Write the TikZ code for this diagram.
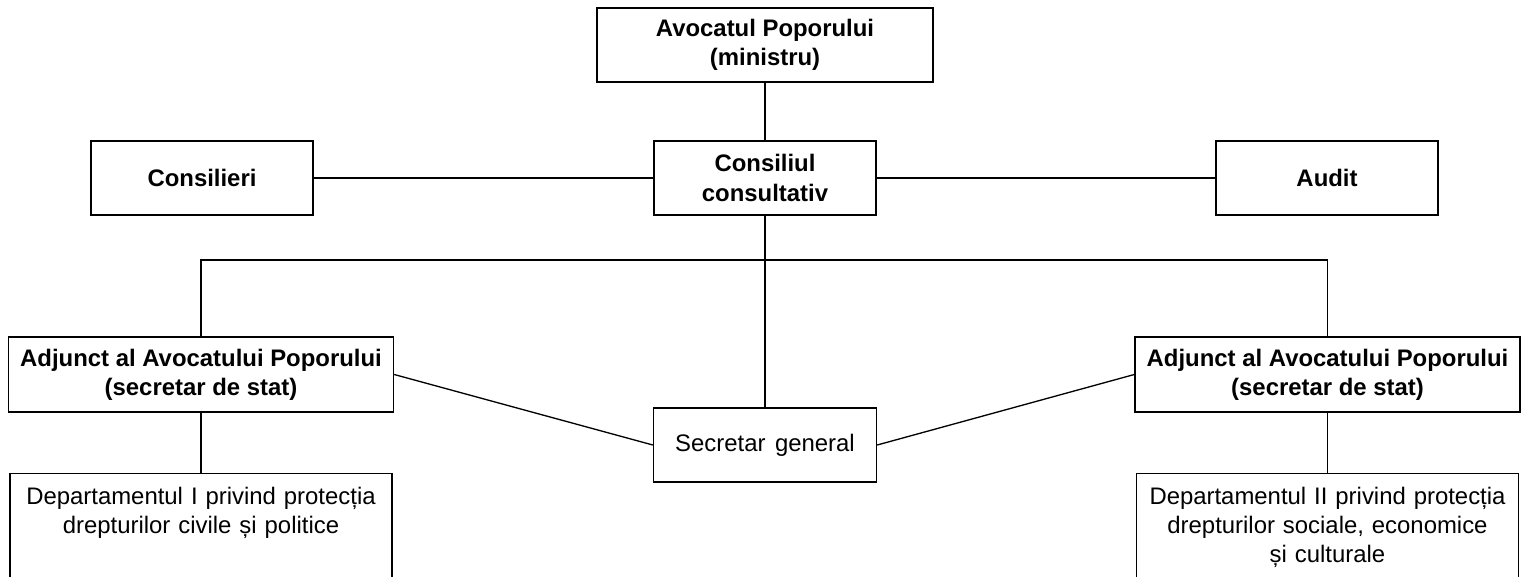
\documentclass[tikz,border=0pt]{standalone}
\usepackage{fontspec}
\setmainfont{Liberation Sans}
\usetikzlibrary{positioning}
\protected\def\wordgap{\spaceskip=0.4em plus 0.1em\relax}

\begin{document}
\begin{tikzpicture}[
    every node/.style={draw, line width=0.8pt, inner sep=2pt},
    head/.style={font=\fontsize{13.6}{16.6}\selectfont\bfseries, align=center, minimum height=1.48cm},
    plain/.style={font=\fontsize{13.6}{16.6}\selectfont\wordgap, align=center},
    dept/.style={font=\fontsize{13.6}{16.6}\selectfont, align=center, text width=7.5cm, anchor=north, inner ysep=0.26cm, text depth=2cm},
    link/.style={line width=0.75pt}
]
\useasboundingbox (0,0) rectangle (30.58,-11.52);
\clip (0,0) rectangle (30.58,-11.52);

% Nodes
\node[head, minimum width=6.72cm] (min) at (15.30,-0.90) {Avocatul Poporului\\(ministru)};
\node[head, minimum width=4.44cm] (cons) at (15.30,-3.56) {Consiliul\\consultativ};
\node[head, minimum width=4.44cm] (consil) at (4.04,-3.56) {Consilieri};
\node[head, minimum width=4.44cm] (audit) at (26.54,-3.56) {Audit};
\node[head, minimum width=7.70cm, minimum height=1.50cm] (adjL) at (4.02,-7.49) {Adjunct al Avocatului Poporului\\(secretar de stat)};
\node[head, minimum width=7.70cm, minimum height=1.50cm] (adjR) at (26.55,-7.49) {Adjunct al Avocatului Poporului\\(secretar de stat)};
\node[plain, minimum width=4.46cm, minimum height=1.48cm] (sec) at (15.30,-8.90) {Secretar general};
\node[dept] (depI) at (4.02,-9.46) {Departamentul I privind protecția\\drepturilor civile și politice};
\node[dept] (depII) at (26.55,-9.46) {Departamentul II privind protecția\\drepturilor sociale, economice\\și culturale};
\coordinate (fork) at (15.30,-5.20);

% Lines
\draw[link] (min) -- (cons);
\draw[link] (consil) -- (cons);
\draw[link] (cons) -- (audit);
\draw[link] (cons) -- (sec);
\draw[link] (adjL.north) |- (fork) -| (adjR.north);
\draw[link] (adjL.east) -- (sec.west);
\draw[link] (sec.east) -- (adjR.west);
\draw[link] (adjL) -- (depI);
\draw[link] (adjR) -- (depII);

\end{tikzpicture}
\end{document}
